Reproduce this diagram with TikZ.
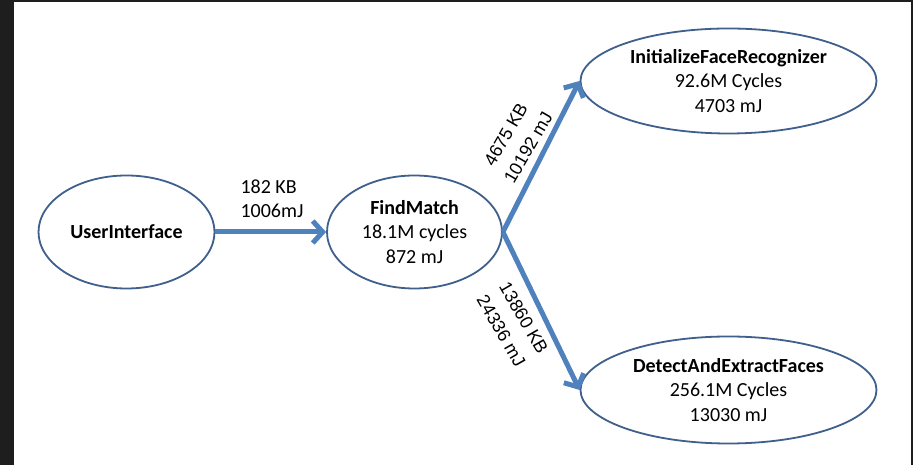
\documentclass[tikz,border=0pt]{standalone}
\usepackage{fontspec}
\setmainfont{Carlito}
\newfontfamily\edgefont{Liberation Sans}
\usetikzlibrary{shapes.geometric, arrows.meta}

\definecolor{framegray}{HTML}{1E1E1E}
\definecolor{ringblue}{HTML}{3F5F8C}
\definecolor{flowblue}{HTML}{4F81BD}

\begin{document}
\begin{tikzpicture}[x=1pt, y=1pt,
    task/.style={ellipse, draw=ringblue, line width=1.8pt, inner sep=0pt,
        align=center, font=\fontsize{20}{24.5}\selectfont},
    flow/.style={draw=flowblue, line width=5pt,
        -{Straight Barb[length=10pt, width=22pt]}},
    cost/.style={align=center, font=\edgefont\fontsize{18}{26}\selectfont}]

    % Frame of the screenshot
    \useasboundingbox (0,0) rectangle (913,465);
    \fill[framegray] (0,0) rectangle (913,465);
    \fill[white] (14,0) rectangle (911,463);

    % Tasks
    \node[task, minimum width=176pt, minimum height=113pt] (ui) at (126.5,233) {\textbf{UserInterface}};
    \node[task, minimum width=175pt, minimum height=113pt] (find) at (414.5,233)
        {\textbf{FindMatch}\\18.1M cycles\\872 mJ};
    \node[task, minimum width=296pt, minimum height=105pt] (init) at (728.5,384)
        {\textbf{InitializeFaceRecognizer}\\92.6M Cycles\\4703 mJ};
    \node[task, minimum width=296pt, minimum height=107pt] (detect) at (728.5,75)
        {\textbf{DetectAndExtractFaces}\\256.1M Cycles\\13030 mJ};

    % Transfers between tasks
    \draw[flow] (ui.east) -- (find.west);
    \draw[flow] (find.east) -- (init.west);
    \draw[flow] (find.east) -- (detect.west);

    % Labels of the transfers
    \node[anchor=west, align=left, font=\fontsize{20}{24.5}\selectfont] (uicost) at (237,266.5) {182 KB\\1006mJ};
    \node[cost, rotate=60] (initcost) at (517,324) {4675 KB\\10192 mJ};
    \node[cost, rotate=-60] (detectcost) at (512.5,140.5) {13860 KB\\24336 mJ};
\end{tikzpicture}
\end{document}
